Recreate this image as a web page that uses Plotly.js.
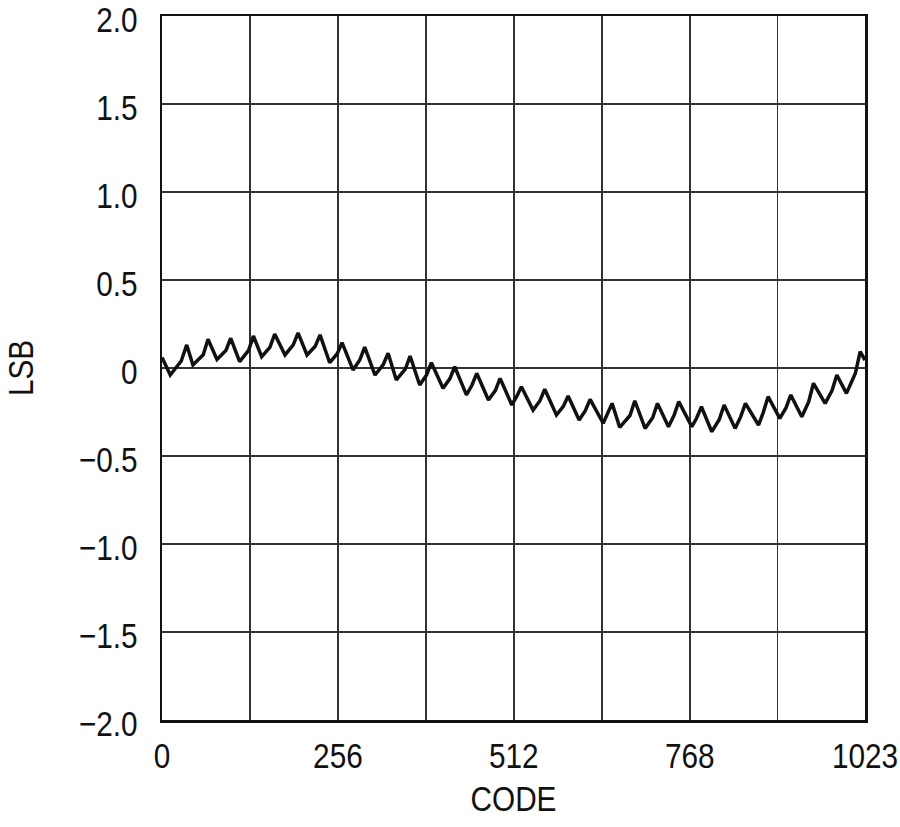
<!DOCTYPE html>
<html>
<head>
<meta charset="utf-8">
<script src="https://cdn.plot.ly/plotly-3.0.1.min.js"></script>
<style>
  html, body { margin: 0; padding: 0; background: #fff; }
  #chart { width: 900px; height: 827px; }
  #chart g.xtick, #chart g.g-xtitle {
    transform-box: fill-box; transform-origin: center; transform: scaleX(0.85);
  }
  #chart g.ytick {
    transform-box: fill-box; transform-origin: right center; transform: translateY(4px) scaleX(0.85);
  }
  #chart g.g-ytitle {
    transform-box: fill-box; transform-origin: center; transform: scaleY(0.85);
  }
</style>
</head>
<body>
<div id="chart"></div>
<script>
// Sampled trace of INL vs input code (troughs, shoulders, peaks of each 32-code tooth)
const codes = [
  0, 4,
  12, 28, 36,
  45, 60, 67,
  80, 93, 100,
  113, 126, 133,
  145, 157, 164,
  179, 191, 198,
  211, 223, 230,
  244, 255, 262,
  278, 288, 295,
  310, 322, 329,
  341, 354, 361,
  375, 385, 392,
  409, 419, 426,
  443, 451, 458,
  475, 485, 492,
  509, 516, 523,
  540, 550, 557,
  574, 584, 591,
  607, 616, 623,
  642, 648, 655,
  666, 681, 688,
  703, 714, 721,
  737, 745, 752,
  771, 778, 785,
  800, 811, 818,
  834, 842, 849,
  868, 875, 882,
  899, 908, 915,
  931, 941, 948,
  965, 975, 982,
  996, 1009, 1016,
  1023
];
const lsb = [
  0.06, 0.03,
  -0.040, 0.040, 0.131,
  0.017, 0.075, 0.163,
  0.049, 0.100, 0.169,
  0.036, 0.100, 0.182,
  0.064, 0.117, 0.193,
  0.074, 0.131, 0.200,
  0.074, 0.124, 0.188,
  0.030, 0.081, 0.144,
  -0.011, 0.047, 0.118,
  -0.040, 0.020, 0.084,
  -0.068, -0.007, 0.068,
  -0.097, -0.040, 0.030,
  -0.115, -0.060, 0.007,
  -0.153, -0.098, -0.030,
  -0.182, -0.128, -0.059,
  -0.210, -0.163, -0.106,
  -0.239, -0.186, -0.121,
  -0.267, -0.218, -0.159,
  -0.295, -0.243, -0.178,
  -0.314, -0.263, -0.201,
  -0.337, -0.270, -0.186,
  -0.343, -0.283, -0.201,
  -0.334, -0.270, -0.191,
  -0.334, -0.284, -0.220,
  -0.362, -0.292, -0.210,
  -0.343, -0.278, -0.201,
  -0.324, -0.252, -0.163,
  -0.286, -0.227, -0.153,
  -0.277, -0.193, -0.087,
  -0.201, -0.128, -0.040,
  -0.144, -0.030, 0.093,
  0.045
];

const xTickVals = [0, 128, 256, 384, 512, 640, 768, 896, 1023];
const xTickText = ['0', '', '256', '', '512', '', '768', '', '1023'];
const yTickVals = [-2, -1.5, -1, -0.5, 0, 0.5, 1, 1.5, 2];
const yTickText = ['\u22122.0', '\u22121.5', '\u22121.0', '\u22120.5', '0', '0.5', '1.0', '1.5', '2.0'];

const fontFam = '"Liberation Sans", Arial, sans-serif';
const fsize = 35;

const trace = {
  x: codes,
  y: lsb,
  type: 'scatter',
  mode: 'lines',
  line: { color: '#111', width: 3.5 },
  hoverinfo: 'skip'
};

const layout = {
  width: 900,
  height: 827,
  margin: { l: 162, r: 35, t: 16, b: 107 },
  paper_bgcolor: '#fff',
  plot_bgcolor: '#fff',
  showlegend: false,
  font: { family: fontFam, size: fsize, color: '#111' },
  xaxis: {
    range: [0, 1023],
    tickvals: xTickVals,
    ticktext: xTickText,
    ticks: '',
    ticklabelstandoff: 4,
    ticklabeloverflow: 'allow',
    showgrid: true,
    gridcolor: '#333',
    gridwidth: 1.5,
    zeroline: false,
    showline: true,
    linecolor: '#111',
    linewidth: 2.5,
    mirror: true,
    title: { text: 'CODE', standoff: 12, font: { family: fontFam, size: fsize, color: '#111' } },
    tickfont: { family: fontFam, size: fsize, color: '#111' },
    fixedrange: true
  },
  yaxis: {
    range: [-2, 2],
    tickvals: yTickVals,
    ticktext: yTickText,
    ticks: '',
    ticklabelstandoff: 15,
    ticklabeloverflow: 'allow',
    showgrid: true,
    gridcolor: '#333',
    gridwidth: 1.5,
    zeroline: false,
    showline: true,
    linecolor: '#111',
    linewidth: 2.5,
    mirror: true,
    title: { text: 'LSB', standoff: 24, font: { family: fontFam, size: fsize, color: '#111' } },
    tickfont: { family: fontFam, size: fsize, color: '#111' },
    fixedrange: true
  }
};

Plotly.newPlot('chart', [trace], layout, { staticPlot: true, displayModeBar: false });
</script>
</body>
</html>
